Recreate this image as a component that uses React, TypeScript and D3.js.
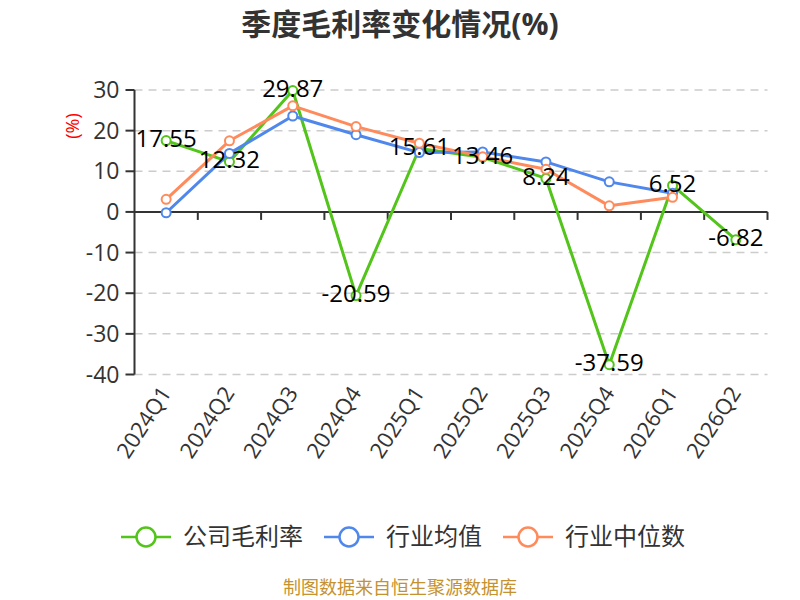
import * as d3 from "d3"

const categories = ["2024Q1", "2024Q2", "2024Q3", "2024Q4", "2025Q1", "2025Q2", "2025Q3", "2025Q4", "2026Q1", "2026Q2"]
const companyMargin = [17.55, 12.32, 29.87, -20.59, 15.61, 13.46, 8.24, -37.59, 6.52, -6.82]
const industryAvg = [-0.2, 14.4, 23.6, 19.0, 14.6, 14.75, 12.3, 7.4, 4.6]
const industryMedian = [3.1, 17.5, 26.1, 21.0, 16.9, 13.6, 10.5, 1.5, 3.6]
const yTicks = [30, 20, 10, 0, -10, -20, -30, -40]

const FONT = "'Open Sans', 'Noto Sans CJK SC', sans-serif"
const GREEN = "#52c41a"
const BLUE = "#5087ec"
const ORANGE = "#ff8a5b"

const series = [
  { name: "公司毛利率", values: companyMargin, color: GREEN },
  { name: "行业均值", values: industryAvg, color: BLUE },
  { name: "行业中位数", values: industryMedian, color: ORANGE },
]

export default function App() {
  const left = 134.5
  const right = 767.5
  const x = d3.scaleBand<string>().domain(categories).range([left, right])
  const y = d3.scaleLinear().domain([-40, 30]).range([374.5, 90])
  const cx = (c: string) => (x(c) ?? 0) + x.bandwidth() / 2

  const line = d3
    .line<number>()
    .x((_, i) => cx(categories[i]))
    .y((d) => y(d))

  // legend layout: icon 50px, gap 12, text (24px per CJK char), gap 21
  const legendFont = 24
  let lx = 121
  const legendItems = series.map((s) => {
    const item = { ...s, x: lx }
    lx += 50 + 12 + s.name.length * legendFont + 21
    return item
  })

  return (
    <div style={{ position: "absolute", left: 0, top: 0 }}>
      <svg width={800} height={600} style={{ display: "block", fontFamily: FONT }}>
        <rect width={800} height={600} fill="#fff" />
        <text x={400} y={35} textAnchor="middle" fontSize={30} fontWeight="bold" fill="#333">
          季度毛利率变化情况(%)
        </text>

        {/* grid */}
        {yTicks
          .filter((t) => t !== 0)
          .map((t) => (
            <line key={t} x1={left} x2={right} y1={y(t)} y2={y(t)} stroke="#ccc" strokeWidth={1.5} strokeDasharray="8,6" />
          ))}

        {/* y axis */}
        <line x1={left} x2={left} y1={y(30)} y2={y(-40)} stroke="#333" strokeWidth={2} />
        {yTicks.map((t) => (
          <g key={t}>
            <line x1={left - 9} x2={left} y1={y(t)} y2={y(t)} stroke="#333" strokeWidth={2} />
            <text x={left - 15} y={y(t)} dy="0.35em" textAnchor="end" fontSize={23} fill="#333">
              {t}
            </text>
          </g>
        ))}
        <text transform="translate(73,126) rotate(-90)" textAnchor="middle" dy="0.35em" fontSize={18} fill="red">
          (%)
        </text>

        {/* x axis */}
        <line x1={left} x2={right} y1={y(0)} y2={y(0)} stroke="#333" strokeWidth={2} />
        {categories.map((c) => (
          <line key={c} x1={(x(c) ?? 0) + x.bandwidth()} x2={(x(c) ?? 0) + x.bandwidth()} y1={y(0)} y2={y(0) + 8} stroke="#333" strokeWidth={2} />
        ))}
        {categories.map((c) => (
          <text key={c} transform={`translate(${cx(c) + 6},${393}) rotate(-57)`} textAnchor="end" fontSize={22} fill="#333">
            {c}
          </text>
        ))}

        {/* lines */}
        {series.map((s) => (
          <path key={s.name} d={line(s.values) ?? ""} fill="none" stroke={s.color} strokeWidth={3} strokeLinejoin="round" />
        ))}
        {series.map((s) =>
          s.values.map((v, i) => (
            <circle key={s.name + i} cx={cx(categories[i])} cy={y(v)} r={4.5} fill="#fff" stroke={s.color} strokeWidth={2} />
          ))
        )}

        {/* labels */}
        {companyMargin.map((v, i) => (
          <text key={i} x={cx(categories[i])} y={y(v) - 2} dy="0.35em" textAnchor="middle" fontSize={24} fill="#000">
            {v}
          </text>
        ))}

        {/* legend */}
        {legendItems.map((s) => (
          <g key={s.name}>
            <line x1={s.x} x2={s.x + 50} y1={537} y2={537} stroke={s.color} strokeWidth={2.5} />
            <circle cx={s.x + 25} cy={537} r={9.5} fill="#fff" stroke={s.color} strokeWidth={2.5} />
            <text x={s.x + 62} y={537} dy="0.35em" fontSize={legendFont} fill="#333">
              {s.name}
            </text>
          </g>
        ))}

        <text x={400} y={594} textAnchor="middle" fontSize={18} fill="#c59230">
          制图数据来自恒生聚源数据库
        </text>
      </svg>
    </div>
  )
}
